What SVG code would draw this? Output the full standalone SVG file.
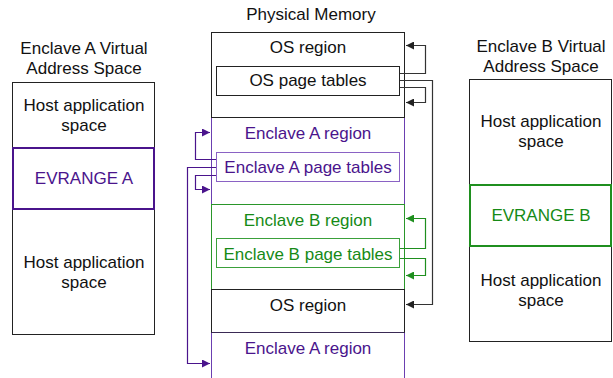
<svg xmlns="http://www.w3.org/2000/svg" width="613" height="378" viewBox="0 0 613 378">
<style>
text{font-family:"Liberation Sans",Arial,Helvetica,sans-serif;font-size:17px;text-anchor:middle;fill:#111}
.pu{fill:#4a148c}
.gr{fill:#168a16}
.box{fill:#fff;stroke:#222;stroke-width:1}
.pbox{fill:none;stroke:#6b3fb0;stroke-width:1}
.gbox{fill:none;stroke:#2a962a;stroke-width:1}
.conn path{fill:none;stroke-width:1.2}
.ck{stroke:#333}
.cp{stroke:#4a148c}
.cg{stroke:#1f8f1f}
</style>
<defs>
<marker id="ak" viewBox="0 0 10 10" refX="10" refY="5" markerWidth="9" markerHeight="8" markerUnits="userSpaceOnUse" orient="auto"><path d="M0,0L10,5L0,10z" fill="#222"/></marker>
<marker id="ap" viewBox="0 0 10 10" refX="10" refY="5" markerWidth="9" markerHeight="8" markerUnits="userSpaceOnUse" orient="auto"><path d="M0,0L10,5L0,10z" fill="#4a148c"/></marker>
<marker id="ag" viewBox="0 0 10 10" refX="10" refY="5" markerWidth="9" markerHeight="8" markerUnits="userSpaceOnUse" orient="auto"><path d="M0,0L10,5L0,10z" fill="#1f8f1f"/></marker>
</defs>

<g id="enclave-a-va">
<text x="84" y="54">Enclave A Virtual</text>
<text x="84" y="74">Address Space</text>
<rect class="box" x="12.5" y="82.5" width="142" height="252"/>
<text x="84" y="111">Host application</text>
<text x="84" y="131">space</text>
<rect x="13" y="148" width="141" height="61" fill="none" stroke="#4a148c" stroke-width="2"/>
<text class="pu" x="84" y="184">EVRANGE A</text>
<text x="84" y="268">Host application</text>
<text x="84" y="288">space</text>
</g>

<g id="physical-memory">
<text x="311" y="20">Physical Memory</text>
<rect class="pbox" x="211.5" y="117.5" width="193" height="87"/>
<path d="M211.5,332.5V378M404.5,332.5V378" fill="none" stroke="#6b3fb0" stroke-width="1"/>
<rect class="gbox" x="211.5" y="204.5" width="193" height="85"/>
<rect class="box" x="211.5" y="32.5" width="193" height="85"/>
<rect class="box" x="211.5" y="289.5" width="193" height="43"/>
<path d="M211.5,332.5H404.5" stroke="#3a2a55" stroke-width="1"/>
</g>

<g id="os-region-top">
<text x="308" y="53">OS region</text>
</g>
<g id="os-page-tables">
<rect class="box" x="216.5" y="66.5" width="183" height="29"/>
<text x="308" y="86">OS page tables</text>
</g>
<g id="enclave-a-region">
<text class="pu" x="308" y="139">Enclave A region</text>
</g>
<g id="enclave-a-page-tables">
<rect x="216.5" y="152.5" width="183" height="29" fill="#fff" stroke="#8a62c4" stroke-width="1"/>
<text class="pu" x="308" y="173">Enclave A page tables</text>
</g>
<g id="enclave-b-region">
<text class="gr" x="308" y="226">Enclave B region</text>
</g>
<g id="enclave-b-page-tables">
<rect x="216.5" y="238.5" width="183" height="29" fill="#fff" stroke="#3aa03a" stroke-width="1"/>
<text class="gr" x="308" y="260">Enclave B page tables</text>
</g>
<g id="os-region-bottom">
<text x="308" y="311">OS region</text>
</g>
<g id="enclave-a-region-bottom">
<text class="pu" x="308" y="354">Enclave A region</text>
</g>

<g id="enclave-b-va">
<text x="541" y="52">Enclave B Virtual</text>
<text x="541" y="72">Address Space</text>
<rect class="box" x="469.5" y="79.5" width="142" height="262"/>
<text x="541" y="127">Host application</text>
<text x="541" y="147">space</text>
<rect x="470" y="185" width="141" height="61" fill="none" stroke="#1f8f1f" stroke-width="2"/>
<text class="gr" x="541" y="221">EVRANGE B</text>
<text x="541" y="286">Host application</text>
<text x="541" y="306">space</text>
</g>

<g id="connectors" class="conn">
<path class="ck" d="M400,73.5H425.5V45.5H406" marker-end="url(#ak)"/>
<path class="ck" d="M400,87.5H425.5V102.5H406" marker-end="url(#ak)"/>
<path class="ck" d="M400,80.5H432.5V304.5H406" marker-end="url(#ak)"/>
<path class="cp" d="M216,159.5H195.5V132.5H210" marker-end="url(#ap)"/>
<path class="cp" d="M216,175.5H195.5V189.5H210" marker-end="url(#ap)"/>
<path class="cp" d="M216,167.5H187.5V363.5H210" marker-end="url(#ap)"/>
<path class="cg" d="M400,248.5H425.5V218.5H406" marker-end="url(#ag)"/>
<path class="cg" d="M400,258.5H425.5V275.5H406" marker-end="url(#ag)"/>
</g>
</svg>
